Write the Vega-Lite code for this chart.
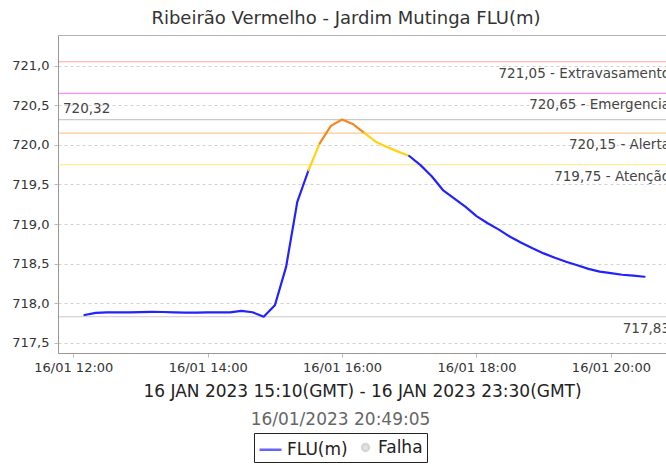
{
  "$schema": "https://vega.github.io/schema/vega-lite/v6.json",
  "autosize": "none",
  "width": 608,
  "height": 318,
  "padding": {"left": 58, "top": 35, "right": 0, "bottom": 112},
  "background": "white",
  "config": {
    "font": "DejaVu Sans",
    "view": {"stroke": "#b4b4b4", "strokeWidth": 1},
    "axis": {
      "labelFont": "DejaVu Sans",
      "labelFontSize": 13,
      "labelColor": "#333333",
      "domainColor": "#999999",
      "tickColor": "#bbbbbb",
      "tickSize": 4,
      "gridColor": "#d2d2d2",
      "gridDash": [3, 3],
      "titleFont": "DejaVu Sans",
      "titleFontWeight": "normal"
    }
  },
  "title": {
    "text": "Ribeirão Vermelho - Jardim Mutinga FLU(m)",
    "fontSize": 18,
    "fontWeight": "normal",
    "color": "#333333",
    "anchor": "middle",
    "dx": -16,
    "offset": 7
  },
  "datasets": {
    "leituras": [
      {"hora": "2023-01-16T12:10:00", "nivel_m": 717.852, "faixa": "Normal", "trecho": "a"},
      {"hora": "2023-01-16T12:20:00", "nivel_m": 717.878, "faixa": "Normal", "trecho": "a"},
      {"hora": "2023-01-16T12:30:00", "nivel_m": 717.884, "faixa": "Normal", "trecho": "a"},
      {"hora": "2023-01-16T12:40:00", "nivel_m": 717.884, "faixa": "Normal", "trecho": "a"},
      {"hora": "2023-01-16T12:50:00", "nivel_m": 717.884, "faixa": "Normal", "trecho": "a"},
      {"hora": "2023-01-16T13:00:00", "nivel_m": 717.888, "faixa": "Normal", "trecho": "a"},
      {"hora": "2023-01-16T13:10:00", "nivel_m": 717.892, "faixa": "Normal", "trecho": "a"},
      {"hora": "2023-01-16T13:20:00", "nivel_m": 717.89, "faixa": "Normal", "trecho": "a"},
      {"hora": "2023-01-16T13:30:00", "nivel_m": 717.886, "faixa": "Normal", "trecho": "a"},
      {"hora": "2023-01-16T13:40:00", "nivel_m": 717.882, "faixa": "Normal", "trecho": "a"},
      {"hora": "2023-01-16T13:50:00", "nivel_m": 717.882, "faixa": "Normal", "trecho": "a"},
      {"hora": "2023-01-16T14:00:00", "nivel_m": 717.884, "faixa": "Normal", "trecho": "a"},
      {"hora": "2023-01-16T14:10:00", "nivel_m": 717.886, "faixa": "Normal", "trecho": "a"},
      {"hora": "2023-01-16T14:20:00", "nivel_m": 717.886, "faixa": "Normal", "trecho": "a"},
      {"hora": "2023-01-16T14:30:00", "nivel_m": 717.905, "faixa": "Normal", "trecho": "a"},
      {"hora": "2023-01-16T14:40:00", "nivel_m": 717.887, "faixa": "Normal", "trecho": "a"},
      {"hora": "2023-01-16T14:50:00", "nivel_m": 717.83, "faixa": "Normal", "trecho": "a"},
      {"hora": "2023-01-16T15:00:00", "nivel_m": 717.975, "faixa": "Normal", "trecho": "a"},
      {"hora": "2023-01-16T15:10:00", "nivel_m": 718.46, "faixa": "Normal", "trecho": "a"},
      {"hora": "2023-01-16T15:20:00", "nivel_m": 719.28, "faixa": "Normal", "trecho": "a"},
      {"hora": "2023-01-16T15:30:00", "nivel_m": 719.68, "faixa": "Normal", "trecho": "a"},
      {"hora": "2023-01-16T15:30:00", "nivel_m": 719.68, "faixa": "Atenção", "trecho": "b"},
      {"hora": "2023-01-16T15:40:00", "nivel_m": 720.02, "faixa": "Atenção", "trecho": "b"},
      {"hora": "2023-01-16T15:40:00", "nivel_m": 720.02, "faixa": "Alerta", "trecho": "c"},
      {"hora": "2023-01-16T15:50:00", "nivel_m": 720.24, "faixa": "Alerta", "trecho": "c"},
      {"hora": "2023-01-16T16:00:00", "nivel_m": 720.32, "faixa": "Alerta", "trecho": "c"},
      {"hora": "2023-01-16T16:10:00", "nivel_m": 720.26, "faixa": "Alerta", "trecho": "c"},
      {"hora": "2023-01-16T16:20:00", "nivel_m": 720.15, "faixa": "Alerta", "trecho": "c"},
      {"hora": "2023-01-16T16:20:00", "nivel_m": 720.15, "faixa": "Atenção", "trecho": "d"},
      {"hora": "2023-01-16T16:30:00", "nivel_m": 720.04, "faixa": "Atenção", "trecho": "d"},
      {"hora": "2023-01-16T16:40:00", "nivel_m": 719.975, "faixa": "Atenção", "trecho": "d"},
      {"hora": "2023-01-16T16:50:00", "nivel_m": 719.915, "faixa": "Atenção", "trecho": "d"},
      {"hora": "2023-01-16T17:00:00", "nivel_m": 719.86, "faixa": "Atenção", "trecho": "d"},
      {"hora": "2023-01-16T17:00:00", "nivel_m": 719.86, "faixa": "Normal", "trecho": "e"},
      {"hora": "2023-01-16T17:10:00", "nivel_m": 719.745, "faixa": "Normal", "trecho": "e"},
      {"hora": "2023-01-16T17:20:00", "nivel_m": 719.605, "faixa": "Normal", "trecho": "e"},
      {"hora": "2023-01-16T17:30:00", "nivel_m": 719.43, "faixa": "Normal", "trecho": "e"},
      {"hora": "2023-01-16T17:40:00", "nivel_m": 719.325, "faixa": "Normal", "trecho": "e"},
      {"hora": "2023-01-16T17:50:00", "nivel_m": 719.22, "faixa": "Normal", "trecho": "e"},
      {"hora": "2023-01-16T18:00:00", "nivel_m": 719.1, "faixa": "Normal", "trecho": "e"},
      {"hora": "2023-01-16T18:10:00", "nivel_m": 719.01, "faixa": "Normal", "trecho": "e"},
      {"hora": "2023-01-16T18:20:00", "nivel_m": 718.93, "faixa": "Normal", "trecho": "e"},
      {"hora": "2023-01-16T18:30:00", "nivel_m": 718.84, "faixa": "Normal", "trecho": "e"},
      {"hora": "2023-01-16T18:40:00", "nivel_m": 718.765, "faixa": "Normal", "trecho": "e"},
      {"hora": "2023-01-16T18:50:00", "nivel_m": 718.695, "faixa": "Normal", "trecho": "e"},
      {"hora": "2023-01-16T19:00:00", "nivel_m": 718.63, "faixa": "Normal", "trecho": "e"},
      {"hora": "2023-01-16T19:10:00", "nivel_m": 718.575, "faixa": "Normal", "trecho": "e"},
      {"hora": "2023-01-16T19:20:00", "nivel_m": 718.525, "faixa": "Normal", "trecho": "e"},
      {"hora": "2023-01-16T19:30:00", "nivel_m": 718.48, "faixa": "Normal", "trecho": "e"},
      {"hora": "2023-01-16T19:40:00", "nivel_m": 718.435, "faixa": "Normal", "trecho": "e"},
      {"hora": "2023-01-16T19:50:00", "nivel_m": 718.4, "faixa": "Normal", "trecho": "e"},
      {"hora": "2023-01-16T20:00:00", "nivel_m": 718.38, "faixa": "Normal", "trecho": "e"},
      {"hora": "2023-01-16T20:10:00", "nivel_m": 718.36, "faixa": "Normal", "trecho": "e"},
      {"hora": "2023-01-16T20:20:00", "nivel_m": 718.35, "faixa": "Normal", "trecho": "e"},
      {"hora": "2023-01-16T20:30:00", "nivel_m": 718.335, "faixa": "Normal", "trecho": "e"}
    ],
    "limites": [
      {"valor": 721.05, "nivel": "Extravasamento", "rotulo": "721,05 - Extravasamento", "lado": "direita"},
      {"valor": 720.65, "nivel": "Emergencia", "rotulo": "720,65 - Emergencia", "lado": "direita"},
      {"valor": 720.32, "nivel": "Referência", "rotulo": "720,32", "lado": "esquerda"},
      {"valor": 720.15, "nivel": "Alerta", "rotulo": "720,15 - Alerta", "lado": "direita"},
      {"valor": 719.75, "nivel": "Atenção", "rotulo": "719,75 - Atenção", "lado": "direita"},
      {"valor": 717.83, "nivel": "Referência", "rotulo": "717,83", "lado": "direita"}
    ],
    "legenda": [
      {"serie": "FLU(m)"},
      {"serie": "Falha"}
    ]
  },
  "resolve": {"axis": {"x": "independent"}},
  "layer": [
    {
      "data": {"name": "limites"},
      "mark": {"type": "rule", "strokeWidth": 1.2, "opacity": 0.45},
      "encoding": {
        "y": {"field": "valor", "type": "quantitative", "scale": {"domain": [717.372, 721.388], "nice": false, "zero": false},
          "axis": {"title": null, "values": [717.5, 718, 718.5, 719, 719.5, 720, 720.5, 721], "labelExpr": "replace(format(datum.value, '.1f'), '.', ',')", "labelPadding": 5}},
        "color": {"field": "nivel", "type": "nominal", "legend": null,
          "scale": {"domain": ["Normal", "Atenção", "Alerta", "Emergencia", "Extravasamento", "Referência"],
                    "range": ["#2222ff", "#ffd21a", "#f5871f", "#ff00ff", "#ff3333", "#8a8a8a"]}}
      }
    },
    {
      "data": {"name": "limites"},
      "transform": [{"filter": "datum.lado == 'direita'"}],
      "mark": {"type": "text", "align": "right", "baseline": "middle", "dx": 4, "dy": 12, "fontSize": 13.5, "font": "DejaVu Sans", "color": "#444444", "clip": true},
      "encoding": {
        "x": {"datum": {"year": 2023, "month": 1, "date": 16, "hours": 20, "minutes": 49, "seconds": 12}, "type": "temporal", "axis": null},
        "y": {"field": "valor", "type": "quantitative", "scale": {"domain": [717.372, 721.388], "nice": false, "zero": false},
          "axis": {"title": null, "values": [717.5, 718, 718.5, 719, 719.5, 720, 720.5, 721], "labelExpr": "replace(format(datum.value, '.1f'), '.', ',')", "labelPadding": 5}},
        "text": {"field": "rotulo"}
      }
    },
    {
      "data": {"name": "limites"},
      "transform": [{"filter": "datum.lado == 'esquerda'"}],
      "mark": {"type": "text", "align": "left", "baseline": "middle", "dx": 5, "dy": -11, "fontSize": 13.5, "font": "DejaVu Sans", "color": "#444444", "clip": true},
      "encoding": {
        "x": {"datum": {"year": 2023, "month": 1, "date": 16, "hours": 11, "minutes": 46, "seconds": 20}, "type": "temporal", "axis": null},
        "y": {"field": "valor", "type": "quantitative", "scale": {"domain": [717.372, 721.388], "nice": false, "zero": false},
          "axis": {"title": null, "values": [717.5, 718, 718.5, 719, 719.5, 720, 720.5, 721], "labelExpr": "replace(format(datum.value, '.1f'), '.', ',')", "labelPadding": 5}},
        "text": {"field": "rotulo"}
      }
    },
    {
      "data": {"name": "leituras"},
      "mark": {"type": "line", "strokeWidth": 2.2, "strokeJoin": "round", "strokeCap": "round", "clip": true},
      "encoding": {
        "x": {"field": "hora", "type": "temporal",
          "scale": {"domain": [{"year": 2023, "month": 1, "date": 16, "hours": 11, "minutes": 46, "seconds": 20}, {"year": 2023, "month": 1, "date": 16, "hours": 20, "minutes": 49, "seconds": 12}], "nice": false},
          "axis": {
            "orient": "bottom",
            "title": "16 JAN 2023 15:10(GMT) - 16 JAN 2023 23:30(GMT)",
            "titleFontSize": 17, "titleColor": "#222222", "titlePadding": 9,
            "format": "%d/%m %H:%M", "labelPadding": 4, "labelFlush": false,
            "values": [
              {"year": 2023, "month": 1, "date": 16, "hours": 12},
              {"year": 2023, "month": 1, "date": 16, "hours": 14},
              {"year": 2023, "month": 1, "date": 16, "hours": 16},
              {"year": 2023, "month": 1, "date": 16, "hours": 18},
              {"year": 2023, "month": 1, "date": 16, "hours": 20}
            ]
          }},
        "y": {"field": "nivel_m", "type": "quantitative", "scale": {"domain": [717.372, 721.388], "nice": false, "zero": false},
          "axis": {"title": null, "values": [717.5, 718, 718.5, 719, 719.5, 720, 720.5, 721], "labelExpr": "replace(format(datum.value, '.1f'), '.', ',')", "labelPadding": 5}},
        "color": {"field": "faixa", "type": "nominal", "legend": null,
          "scale": {"domain": ["Normal", "Atenção", "Alerta", "Emergencia", "Extravasamento", "Referência"],
                    "range": ["#2222ff", "#ffd21a", "#f5871f", "#ff00ff", "#ff3333", "#8a8a8a"]}},
        "detail": {"field": "trecho"}
      }
    },
    {
      "data": {"name": "legenda"},
      "transform": [{"filter": "false"}],
      "mark": {"type": "point", "filled": true},
      "encoding": {
        "x": {"field": "hora", "type": "temporal",
          "scale": {"domain": [{"year": 2023, "month": 1, "date": 16, "hours": 11, "minutes": 46, "seconds": 20}, {"year": 2023, "month": 1, "date": 16, "hours": 20, "minutes": 49, "seconds": 12}], "nice": false},
          "axis": {"orient": "bottom", "title": "16/01/2023 20:49:05", "titleFontSize": 17, "titleColor": "#666666", "labels": false, "ticks": false, "domain": false, "grid": false, "offset": 50, "titlePadding": 8, "titleX": 282}},
        "fill": {"field": "serie", "type": "nominal",
          "scale": {"domain": ["FLU(m)", "Falha"], "range": ["#2222ff", "#c4c4c4"]},
          "legend": {"orient": "none", "legendX": 196, "legendY": 398, "direction": "horizontal", "title": null, "labelFontSize": 17, "labelColor": "#222222", "labelFont": "DejaVu Sans", "symbolStrokeWidth": 2.5, "strokeColor": "#222222", "fillColor": "white", "padding": 4, "columnPadding": 9, "labelOffset": 4}},
        "stroke": {"field": "serie", "type": "nominal",
          "scale": {"domain": ["FLU(m)", "Falha"], "range": ["#2222ff", "#c4c4c4"]},
          "legend": {"orient": "none", "legendX": 196, "legendY": 398, "direction": "horizontal", "title": null, "labelFontSize": 17, "labelColor": "#222222", "labelFont": "DejaVu Sans", "symbolStrokeWidth": 2.5, "strokeColor": "#222222", "fillColor": "white", "padding": 4, "columnPadding": 9, "labelOffset": 4}},
        "shape": {"field": "serie", "type": "nominal",
          "scale": {"domain": ["FLU(m)", "Falha"], "range": ["stroke", "circle"]},
          "legend": {"orient": "none", "legendX": 196, "legendY": 398, "direction": "horizontal", "title": null, "labelFontSize": 17, "labelColor": "#222222", "labelFont": "DejaVu Sans", "symbolStrokeWidth": 2.5, "strokeColor": "#222222", "fillColor": "white", "padding": 4, "columnPadding": 9, "labelOffset": 4}},
        "size": {"field": "serie", "type": "nominal",
          "scale": {"type": "ordinal", "domain": ["FLU(m)", "Falha"], "range": [484, 49]},
          "legend": {"orient": "none", "legendX": 196, "legendY": 398, "direction": "horizontal", "title": null, "labelFontSize": 17, "labelColor": "#222222", "labelFont": "DejaVu Sans", "symbolStrokeWidth": 2.5, "strokeColor": "#222222", "fillColor": "white", "padding": 4, "columnPadding": 9, "labelOffset": 4}}
      }
    }
  ]
}
